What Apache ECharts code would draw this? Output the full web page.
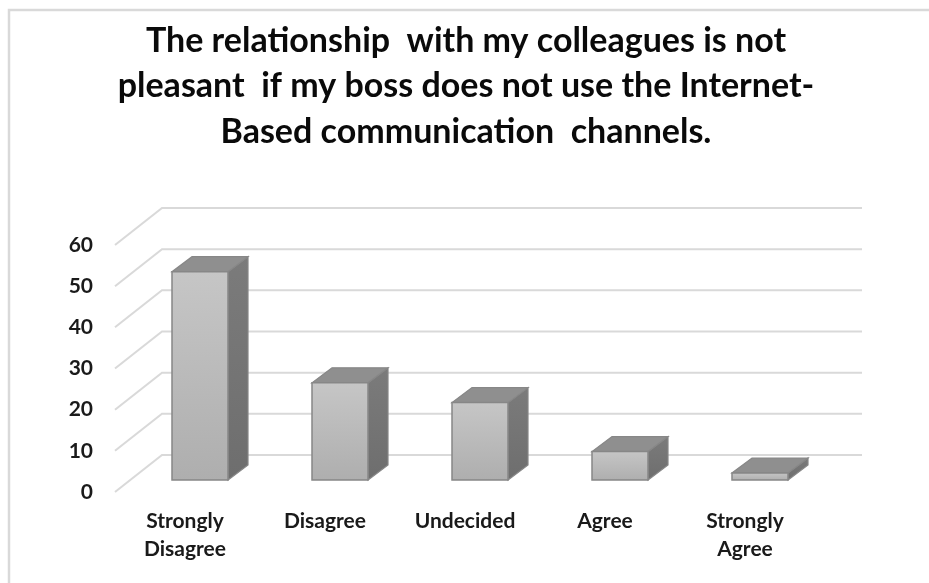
<!DOCTYPE html>
<html>
<head>
<meta charset="utf-8">
<script src="https://cdn.jsdelivr.net/npm/echarts@6/dist/echarts.min.js"></script>
<style>html,body{margin:0;padding:0;background:#fff;}#c{width:929px;height:583px;}</style>
</head>
<body>
<div id="c"></div>
<script>
const titleText = 'The relationship  with my colleagues is not\npleasant  if my boss does not use the Internet-\nBased communication  channels.';
const categories = ['Strongly Disagree', 'Disagree', 'Undecided', 'Agree', 'Strongly Agree'];
const values = [50.6, 23.6, 18.8, 6.9, 1.7];
const yTicks = [0, 10, 20, 30, 40, 50, 60];

const FONT = 'Lato';
const WALL_DX = 47, WALL_DY = -37;   // depth of floor / walls
const BAR_SHIFT_X = 15, BAR_SHIFT_Y = -12; // bar front plane inside the floor
const BAR_DX = 20, BAR_DY = -15;     // bar depth

const chart = echarts.init(document.getElementById('c'), null, {renderer: 'canvas'});

const option = {
  backgroundColor: '#ffffff',
  animation: false,
  title: {
    text: titleText,
    left: 461,
    top: 13,
    textAlign: 'center',
    textStyle: {fontFamily: FONT, fontSize: 34, fontWeight: 'bold', color: '#0a0a0a', lineHeight: 45.5, align: 'center'}
  },
  graphic: [{
    type: 'rect', silent: true, z: -10,
    shape: {x: 9, y: 10, width: 940, height: 600},
    style: {fill: 'none', stroke: '#d9d9d9', lineWidth: 2.5}
  }],
  grid: {left: 115, right: 114, top: 245, bottom: 91, containLabel: false},
  xAxis: {
    type: 'category',
    data: categories,
    boundaryGap: true,
    axisLine: {show: false},
    axisTick: {show: false},
    splitLine: {show: false},
    axisLabel: {
      interval: 0,
      margin: 15,
      fontFamily: FONT, fontSize: 21, fontWeight: 'bold', color: '#1a1a1a', lineHeight: 28,
      formatter: v => v.replace(' ', '\n')
    }
  },
  yAxis: {
    type: 'value',
    min: 0, max: 60, interval: 10,
    axisLine: {show: false},
    axisTick: {show: false},
    splitLine: {show: false},
    axisLabel: {margin: 22, fontFamily: FONT, fontSize: 21, fontWeight: 'bold', color: '#1a1a1a'}
  },
  series: [
    {
      type: 'custom',
      z: 1,
      silent: true,
      data: yTicks.map(t => [0, t]),
      renderItem: function (params, api) {
        const p = api.coord([0, api.value(1)]);
        const bw = api.size([1, 0])[0];
        const lx = p[0] - bw / 2;
        return {
          type: 'polyline',
          shape: {points: [[lx, p[1]], [lx + WALL_DX, p[1] + WALL_DY], [lx + WALL_DX + bw * categories.length, p[1] + WALL_DY]]},
          style: {stroke: '#d9d9d9', lineWidth: 2, fill: null}
        };
      }
    },
    {
      type: 'custom',
      z: 2,
      silent: true,
      data: values.map((v, i) => [i, v]),
      renderItem: function (params, api) {
        const i = api.value(0), v = api.value(1);
        const top = api.coord([i, v]);
        const base = api.coord([i, 0]);
        const bw = api.size([1, 0])[0];
        const w = bw * 0.4;
        const cx = top[0] + BAR_SHIFT_X;
        const x0 = cx - w / 2, x1 = cx + w / 2;
        const yT = top[1] + BAR_SHIFT_Y, yB = base[1] + BAR_SHIFT_Y;
        const edge = '#878787';
        return {
          type: 'group',
          children: [
            {
              type: 'polygon',
              shape: {points: [[x1, yT], [x1 + BAR_DX, yT + BAR_DY], [x1 + BAR_DX, yB + BAR_DY], [x1, yB]]},
              style: {fill: new echarts.graphic.LinearGradient(0, 0, 0, 1, [{offset: 0, color: '#7b7b7b'}, {offset: 1, color: '#6e6e6e'}]), stroke: edge, lineWidth: 1.2}
            },
            {
              type: 'polygon',
              shape: {points: [[x0, yT], [x1, yT], [x1 + BAR_DX, yT + BAR_DY], [x0 + BAR_DX, yT + BAR_DY]]},
              style: {fill: '#8f8f8f', stroke: edge, lineWidth: 1.2}
            },
            {
              type: 'rect',
              shape: {x: x0, y: yT, width: w, height: yB - yT},
              style: {fill: new echarts.graphic.LinearGradient(0, 0, 0, 1, [{offset: 0, color: '#c6c6c6'}, {offset: 1, color: '#aeaeae'}]), stroke: edge, lineWidth: 1.5}
            }
          ]
        };
      }
    }
  ]
};
chart.setOption(option);
</script>
</body>
</html>
